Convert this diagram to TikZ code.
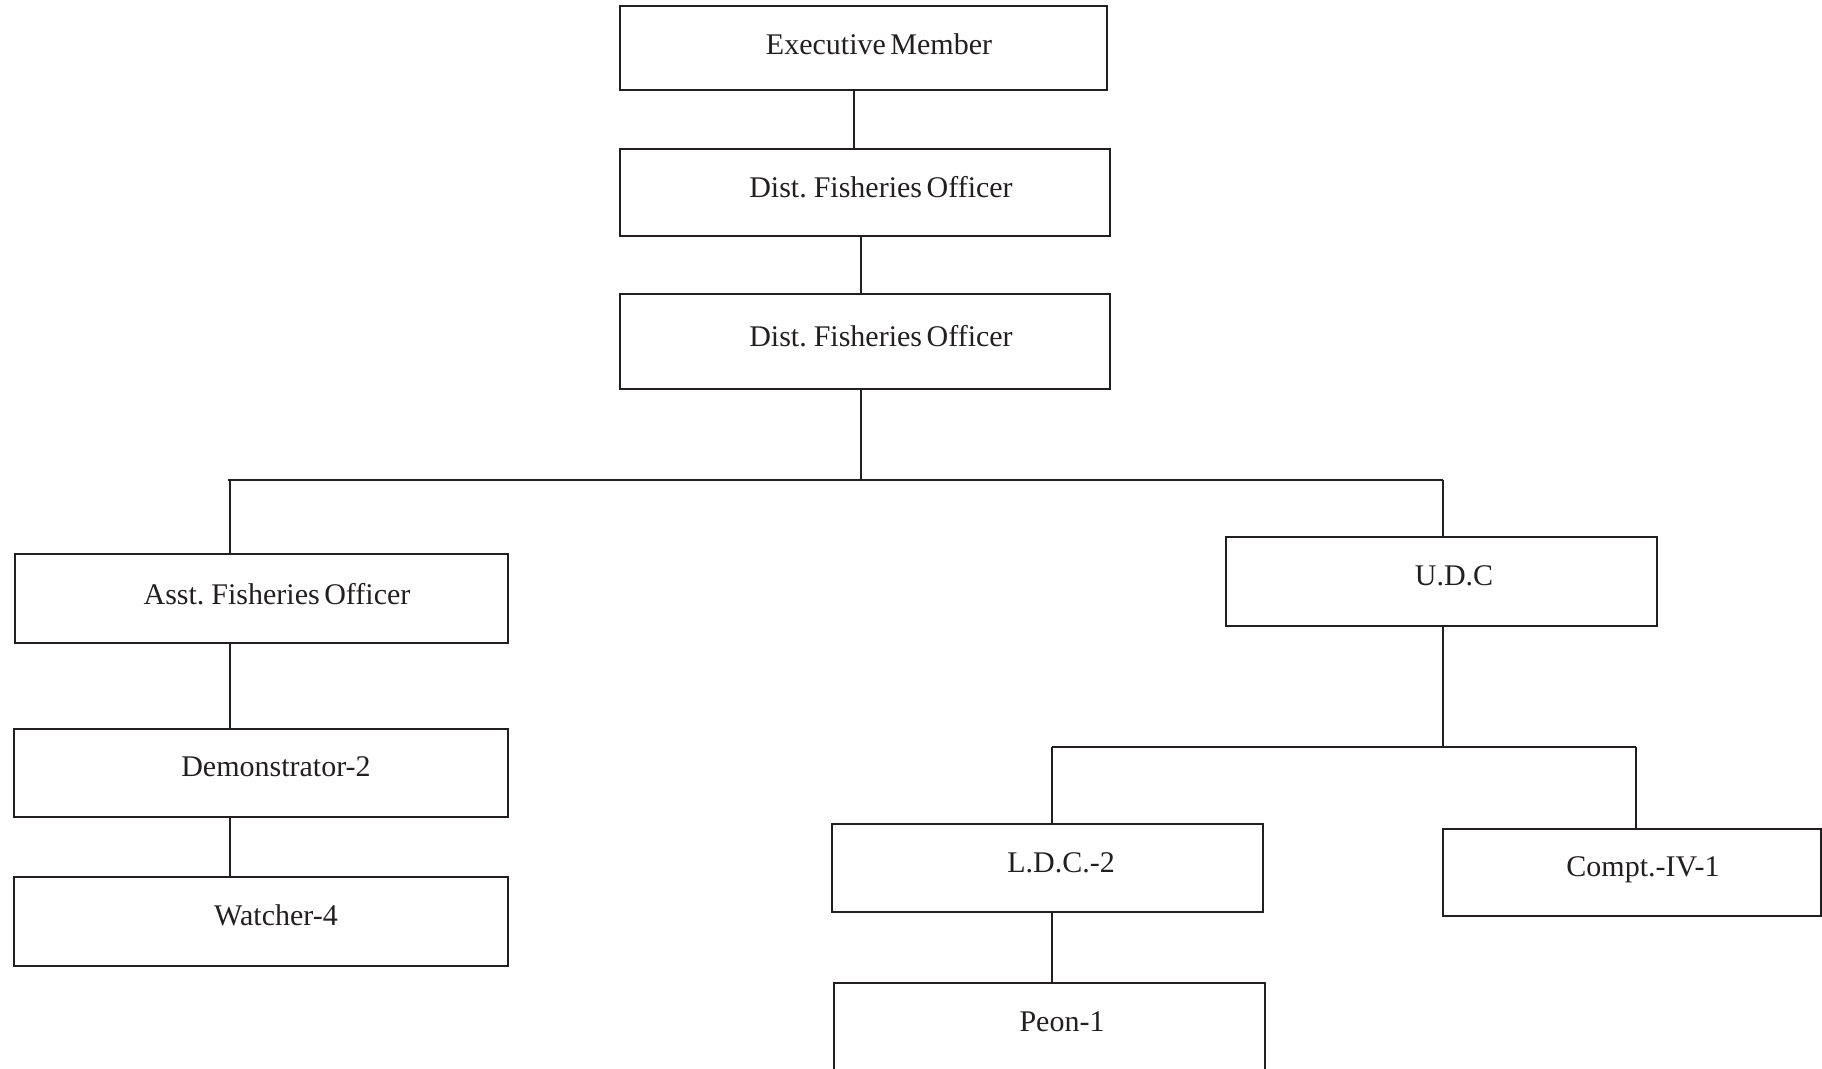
\documentclass[tikz,border=0pt]{standalone}
\usepackage{fontspec}
\setmainfont[WordSpace=0.6]{Liberation Serif}
\usetikzlibrary{fit}
\definecolor{ink}{HTML}{231F20}
\begin{document}
\begin{tikzpicture}[x=0.5pt,y=-0.5pt,
  box/.style={draw=ink, line width=1.25pt, inner sep=0pt, rectangle},
  caption/.style={anchor=base, font=\fontsize{15}{18}\selectfont, text=ink, inner sep=0pt},
  wire/.style={draw=ink, line width=1pt}]
\useasboundingbox (0,0) rectangle (1822,1069);

% boxes
\node[box, fit={(620,6)(1107,90)}]     (exec)  {};
\node[box, fit={(620,149)(1110,236)}]  (dfo1)  {};
\node[box, fit={(620,294)(1110,389)}]  (dfo2)  {};
\node[box, fit={(15,554)(508,643)}]    (afo)   {};
\node[box, fit={(14,729)(508,817)}]    (dem)   {};
\node[box, fit={(14,877)(508,966)}]    (watch) {};
\node[box, fit={(1226,537)(1657,626)}] (udc)   {};
\node[box, fit={(832,824)(1263,912)}]  (ldc)   {};
\node[box, fit={(1443,829)(1821,916)}] (compt) {};
\node[box, fit={(834,983)(1265,1090)}] (peon)  {};

% captions
\node[caption] (exec-t)  at (879,55)   {Executive Member};
\node[caption] (dfo1-t)  at (881,198)  {Dist. Fisheries Officer};
\node[caption] (dfo2-t)  at (881,347)  {Dist. Fisheries Officer};
\node[caption] (afo-t)   at (277,604)  {Asst. Fisheries Officer};
\node[caption] (dem-t)   at (276,776)  {Demonstrator-2};
\node[caption] (watch-t) at (276,925)  {Watcher-4};
\node[caption] (udc-t)   at (1454,586) {U.D.C};
\node[caption] (ldc-t)   at (1061,872) {L.D.C.-2};
\node[caption] (compt-t) at (1643,876) {Compt.-IV-1};
\node[caption] (peon-t)  at (1062,1031) {Peon-1};

% guide coordinates for the connectors
\coordinate (x1) at (854,0);
\coordinate (x2) at (861,0);
\coordinate (xl) at (230,0);
\coordinate (xr) at (1443,0);
\coordinate (xa) at (1052,0);
\coordinate (xb) at (1636,0);
\coordinate (busL) at (228,480);
\coordinate (busR) at (1443,480);
\coordinate (bus2L) at (1052,747);
\coordinate (bus2R) at (1636,747);

% connectors
\draw[wire] (exec.south -| x1) -- (dfo1.north -| x1);
\draw[wire] (dfo1.south -| x2) -- (dfo2.north -| x2);
\draw[wire] (dfo2.south -| x2) -- (busL -| x2);
\draw[wire] (busL) -- (busR);
\draw[wire] (busL -| xl) -- (afo.north -| xl);
\draw[wire] (busR) -- (udc.north -| xr);
\draw[wire] (afo.south -| xl) -- (dem.north -| xl);
\draw[wire] (dem.south -| xl) -- (watch.north -| xl);
\draw[wire] (udc.south -| xr) -- (bus2L -| xr);
\draw[wire] (bus2L) -- (bus2R);
\draw[wire] (bus2L) -- (ldc.north -| xa);
\draw[wire] (bus2R) -- (compt.north -| xb);
\draw[wire] (ldc.south -| xa) -- (peon.north -| xa);
\end{tikzpicture}
\end{document}
